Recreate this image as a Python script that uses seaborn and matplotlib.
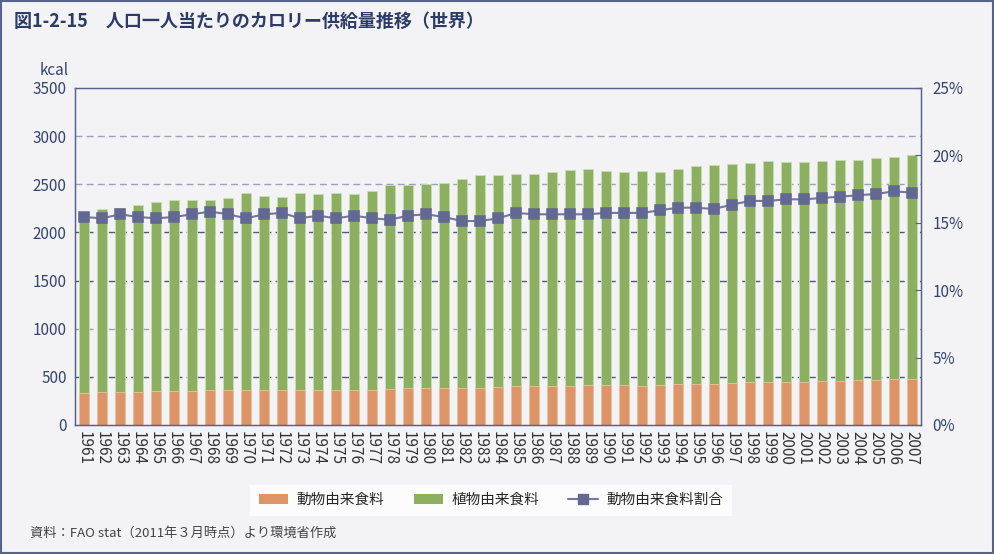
import numpy as np
import pandas as pd
import matplotlib
matplotlib.use("Agg")
import matplotlib.pyplot as plt
import seaborn as sns
from matplotlib.patches import Patch, Rectangle
from matplotlib.lines import Line2D

years = list(range(1961, 2008))

# 総供給量 (kcal)
total_kcal = [2209, 2243, 2254, 2288, 2316, 2333, 2337, 2337, 2354, 2406,
              2375, 2364, 2406, 2396, 2413, 2402, 2434, 2492, 2489, 2503,
              2517, 2555, 2593, 2596, 2607, 2607, 2627, 2648, 2655, 2641,
              2627, 2638, 2631, 2659, 2693, 2700, 2711, 2717, 2738, 2731,
              2728, 2738, 2755, 2752, 2769, 2783, 2804]

# 動物由来食料 (kcal)
animal_kcal = [332, 339, 346, 346, 350, 353, 356, 367, 363, 363,
               367, 367, 363, 367, 367, 367, 367, 374, 384, 387,
               387, 384, 387, 395, 405, 405, 408, 408, 412, 412,
               412, 408, 415, 426, 429, 429, 436, 447, 450, 450,
               450, 453, 457, 464, 471, 478, 478]

# 動物由来食料割合 (%)
animal_share = [15.43, 15.33, 15.63, 15.43, 15.33, 15.43, 15.63, 15.83, 15.63, 15.33,
                15.63, 15.73, 15.33, 15.53, 15.33, 15.53, 15.33, 15.23, 15.53, 15.63,
                15.43, 15.13, 15.13, 15.33, 15.73, 15.63, 15.63, 15.63, 15.63, 15.73,
                15.73, 15.73, 15.93, 16.12, 16.12, 16.02, 16.35, 16.62, 16.62, 16.74,
                16.74, 16.84, 16.94, 17.04, 17.14, 17.33, 17.24]

labels = ["動物由来食料", "植物由来食料", "動物由来食料割合"]

c_animal = "#dd9466"
c_plant = "#8db060"
c_line = "#73779a"
c_marker = "#626891"
navy = "#34446c"
bg = "#f3f3f6"

df = pd.DataFrame({"year": [str(y) for y in years],
                   "total": total_kcal,
                   "animal": animal_kcal,
                   "share": animal_share})

sns.set_style("white")
plt.rcParams["font.family"] = ["Noto Sans CJK JP", "DejaVu Sans"]

fig = plt.figure(figsize=(9.94, 5.54), dpi=100, facecolor=bg)
ax = fig.add_axes([0.0755, 0.2329, 0.8511, 0.6083])
ax.set_facecolor(bg)

sns.barplot(data=df, x="year", y="total", color=c_plant, saturation=1,
            width=0.56, edgecolor="#c9dcb3", linewidth=0.6, ax=ax)
sns.barplot(data=df, x="year", y="animal", color=c_animal, saturation=1,
            width=0.56, edgecolor="#ecc2a6", linewidth=0.6, ax=ax)

ax.set_ylim(0, 3500)
ax.set_yticks(np.arange(0, 3501, 500))
grid_cols = {500: "#4a5a82", 1000: "#9aa3bd", 1500: "#4a5a82",
             2000: "#4a5a82", 2500: "#9aa3bd", 3000: "#9aa3bd"}
for v, col in grid_cols.items():
    ax.axhline(v, color=col, linestyle=(0, (5, 3)), linewidth=1, zorder=0.5)

ax.set_xlabel("")
ax.set_ylabel("")
ax.tick_params(axis="x", length=0, labelrotation=-90, labelsize=11,
               labelcolor="#333333", pad=4)
ax.tick_params(axis="y", length=0, labelsize=11, labelcolor=navy, pad=6)
for s in ["left", "bottom", "top", "right"]:
    ax.spines[s].set_color("#56638a")
    ax.spines[s].set_linewidth(1)
ax.spines["top"].set_visible(True)

ax2 = ax.twinx()
sns.pointplot(data=df, x="year", y="share", color=c_line, markers="s",
              linewidth=1.5, markersize=7, ax=ax2)
for line in ax2.lines:
    line.set_markerfacecolor(c_marker)
    line.set_markeredgecolor(c_marker)
ax2.set_ylim(0, 25)
ax2.set_yticks(np.arange(0, 26, 5))
ax2.set_yticklabels([f"{v}%" for v in range(0, 26, 5)])
ax2.set_ylabel("")
ax2.tick_params(axis="y", direction="in", length=4, color="#56638a",
                labelsize=11, labelcolor=navy, pad=8)
for s in ["left", "bottom", "top", "right"]:
    ax2.spines[s].set_color("#56638a")

fig.text(0.055, 0.873, "kcal", ha="center", va="center", fontsize=11, color=navy)

fig.text(0.014, 0.962, "図1-2-15　人口一人当たりのカロリー供給量推移（世界）",
         ha="left", va="center", fontsize=13, fontweight="bold", color="#2c3c66")

fig.text(0.03, 0.038, "資料：FAO stat（2011年３月時点）より環境省作成",
         ha="left", va="center", fontsize=9.5, color="#444444")

handles = [Patch(facecolor=c_animal, edgecolor="none"),
           Patch(facecolor=c_plant, edgecolor="none"),
           Line2D([0], [0], color=c_line, linewidth=1.5, marker="s",
                  markersize=7, markerfacecolor=c_marker, markeredgecolor=c_marker)]
leg = fig.legend(handles, labels, loc="center", bbox_to_anchor=(0.494, 0.097),
                 ncol=3, frameon=True, fancybox=False, facecolor="white",
                 edgecolor="white", fontsize=10.5, handlelength=2.0,
                 columnspacing=2.0, borderpad=0.6, handletextpad=0.6)
leg.get_frame().set_linewidth(0)

fig.patches.append(Rectangle((0.001, 0.001), 0.998, 0.998, transform=fig.transFigure,
                             fill=False, edgecolor="#56638a", linewidth=1.5))

fig.savefig("out.png", dpi=100, facecolor=bg)
